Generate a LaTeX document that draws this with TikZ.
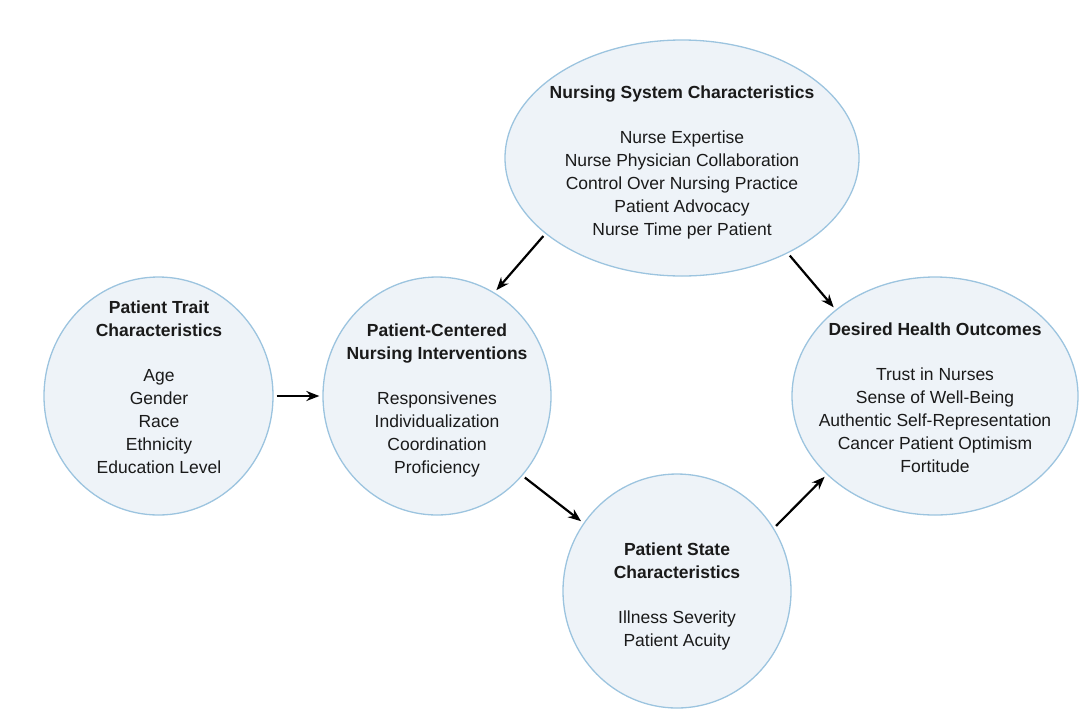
\documentclass[tikz,border=0pt]{standalone}
\usepackage{fontspec}
\setmainfont{Liberation Sans}
\usetikzlibrary{shapes.geometric,arrows.meta}
\definecolor{bubblefill}{HTML}{EEF3F8}
\definecolor{bubbleline}{HTML}{9CC4DF}
\definecolor{inktext}{HTML}{1A1A1A}
\begin{document}
\begin{tikzpicture}[x=1pt,y=-1pt,
  bubble/.style={ellipse,draw=bubbleline,fill=bubblefill,line width=1.3pt,inner sep=0pt},
  caption/.style={anchor=north,align=center,inner sep=0pt,text=inktext,
    font=\fontsize{17.5}{23}\selectfont},
  link/.style={-{Stealth[length=13pt,width=10pt]},line width=2.2pt,black,
    shorten <=3pt,shorten >=3pt}]
\useasboundingbox (0,0) rectangle (1091,726);

% the five bubbles
\node[bubble,minimum width=354pt,minimum height=236pt] (ns) at (682,158) {};
\node[bubble,minimum width=229pt,minimum height=238pt] (trait) at (158.5,396) {};
\node[bubble,minimum width=228pt,minimum height=238pt] (pc) at (437,396) {};
\node[bubble,minimum width=286pt,minimum height=238pt] (dh) at (935,396) {};
\node[bubble,minimum width=228pt,minimum height=234pt] (ps) at (677,591) {};

% their texts
\node[caption] (nst) at (682,85.5) {\textbf{Nursing System Characteristics}\\[22pt]
  Nurse Expertise\\ Nurse Physician Collaboration\\ Control Over Nursing Practice\\
  Patient Advocacy\\ Nurse Time per Patient};
\node[caption] (traitt) at (159,300.5) {\textbf{Patient Trait}\\ \textbf{Characteristics}\\[22pt]
  Age\\ Gender\\ Race\\ Ethnicity\\ Education Level};
\node[caption] (pct) at (437,323.5) {\textbf{Patient-Centered}\\ \textbf{Nursing Interventions}\\[22pt]
  Responsivenes\\ Individualization\\ Coordination\\ Proficiency};
\node[caption] (dht) at (935,322.5) {\textbf{Desired Health Outcomes}\\[22pt]
  Trust in Nurses\\ Sense of Well-Being\\ Authentic Self-Representation\\
  Cancer Patient Optimism\\ Fortitude};
\node[caption] (pst) at (677,542.5) {\textbf{Patient State}\\ \textbf{Characteristics}\\[22pt]
  Illness Severity\\ Patient Acuity};

% influences between the bubbles
\draw[link] (trait.0) -- (pc.180);
\draw[link] (ns.209) -- (pc.61);
\draw[link] (ns.-42) -- (dh.139);
\draw[link] (pc.-43) -- (ps.144);
\draw[link] (ps.33) -- (dh.216);
\end{tikzpicture}
\end{document}
